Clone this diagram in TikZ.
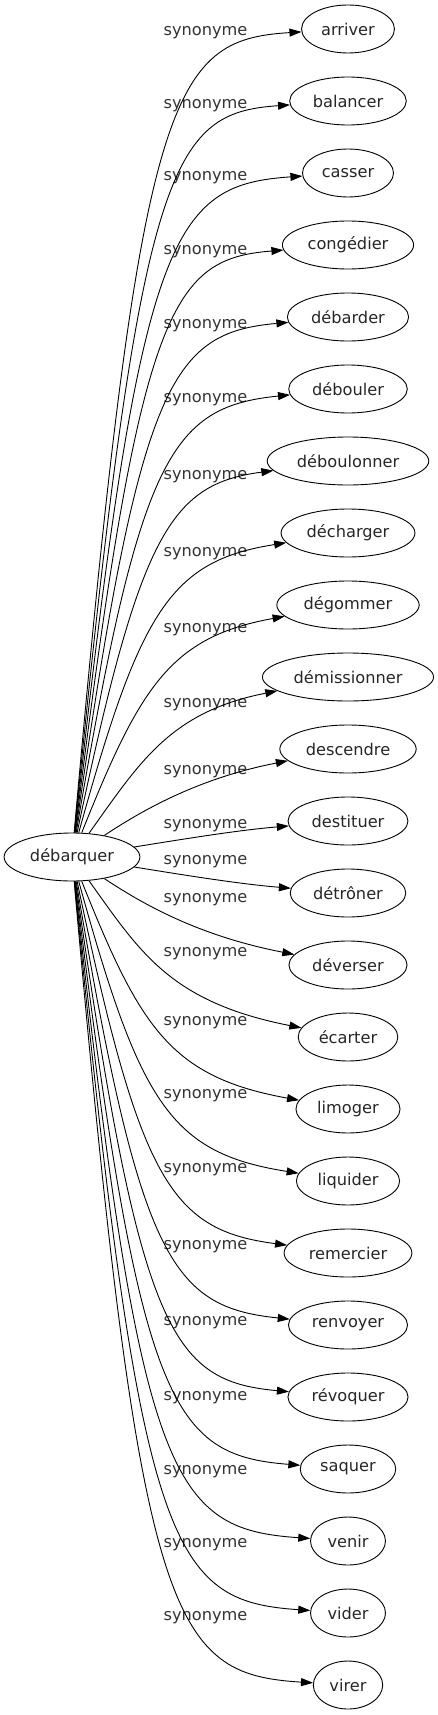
\documentclass[tikz,border=0pt]{standalone}
\usepackage{fontspec}
\setmainfont{DejaVu Sans}
\usetikzlibrary{arrows.meta,shapes.geometric}
\begin{document}
\begin{tikzpicture}[x=1pt,y=-1pt,
  word/.style={draw,ellipse,line width=0.9pt,inner xsep=6pt,inner ysep=2pt,minimum height=48pt,font=\fontsize{16.2}{19}\selectfont,text=black!85},
  lab/.style={inner sep=0pt,font=\fontsize{16.2}{19}\selectfont,text=black!80},
  edge/.style={line width=0.9pt,-{Triangle[length=12pt,width=8pt]}}]
\useasboundingbox (0,0) rectangle (438,1715);
\node[word] (deb) at (72,857) {débarquer};
\node[word] (t0) at (348,29) {arriver};
\node[word] (t1) at (348,101) {balancer};
\node[word] (t2) at (348,173) {casser};
\node[word] (t3) at (348,245) {congédier};
\node[word] (t4) at (348,317) {débarder};
\node[word] (t5) at (348,389) {débouler};
\node[word] (t6) at (348,461) {déboulonner};
\node[word] (t7) at (348,533) {décharger};
\node[word] (t8) at (348,605) {dégommer};
\node[word] (t9) at (348,677) {démissionner};
\node[word] (t10) at (348,749) {descendre};
\node[word] (t11) at (348,821) {destituer};
\node[word] (t12) at (348,893) {détrôner};
\node[word] (t13) at (348,965) {déverser};
\node[word] (t14) at (348,1037) {écarter};
\node[word] (t15) at (348,1109) {limoger};
\node[word] (t16) at (348,1181) {liquider};
\node[word] (t17) at (348,1253) {remercier};
\node[word] (t18) at (348,1325) {renvoyer};
\node[word] (t19) at (348,1397) {révoquer};
\node[word] (t20) at (348,1469) {saquer};
\node[word] (t21) at (348,1541) {venir};
\node[word] (t22) at (348,1613) {vider};
\node[word] (t23) at (348,1685) {virer};
% labels
\foreach \k/\L in {0/33,1/106,2/178,3/252,4/326,5/400,6/477,7/554,8/630,9/705,10/772,11/826,12/862,13/900,14/954,15/1023,16/1096,17/1170,18/1247,19/1323,20/1398,21/1472,22/1545,23/1618}
  \node[lab] (l\k) at (205.5,\L) {synonyme};
% upper edges
\draw[edge] (deb) .. controls (140,90) and (170,40) .. (t0);
\draw[edge] (deb) .. controls (140,163) and (170,113) .. (t1);
\draw[edge] (deb) .. controls (140,235) and (170,185) .. (t2);
\draw[edge] (deb) .. controls (140,309) and (170,259) .. (t3);
\draw[edge] (deb) .. controls (140,383) and (170,333) .. (t4);
\draw[edge] (deb) .. controls (140,457) and (170,407) .. (t5);
\draw[edge] (deb) .. controls (140,534) and (170,484) .. (t6);
\draw[edge] (deb) .. controls (140,611) and (170,561) .. (t7);
\draw[edge] (deb) .. controls (140,687) and (170,637) .. (t8);
\draw[edge] (deb) .. controls (140,762) and (170,712) .. (t9);
\draw[edge] (deb) .. controls (150,805) and (205,777) .. (t10);
\draw[edge] (deb) .. controls (190,838) and (240,830) .. (t11);
% lower edges
\draw[edge] (deb) .. controls (190,876) and (240,884) .. (t12);
\draw[edge] (deb) .. controls (150,909) and (205,937) .. (t13);
\draw[edge] (deb) .. controls (140,952) and (170,1002) .. (t14);
\draw[edge] (deb) .. controls (140,1027) and (170,1077) .. (t15);
\draw[edge] (deb) .. controls (140,1103) and (170,1153) .. (t16);
\draw[edge] (deb) .. controls (140,1180) and (170,1230) .. (t17);
\draw[edge] (deb) .. controls (140,1257) and (170,1307) .. (t18);
\draw[edge] (deb) .. controls (140,1331) and (170,1381) .. (t19);
\draw[edge] (deb) .. controls (140,1405) and (170,1455) .. (t20);
\draw[edge] (deb) .. controls (140,1479) and (170,1529) .. (t21);
\draw[edge] (deb) .. controls (140,1551) and (170,1601) .. (t22);
\draw[edge] (deb) .. controls (140,1624) and (170,1674) .. (t23);
\end{tikzpicture}
\end{document}
